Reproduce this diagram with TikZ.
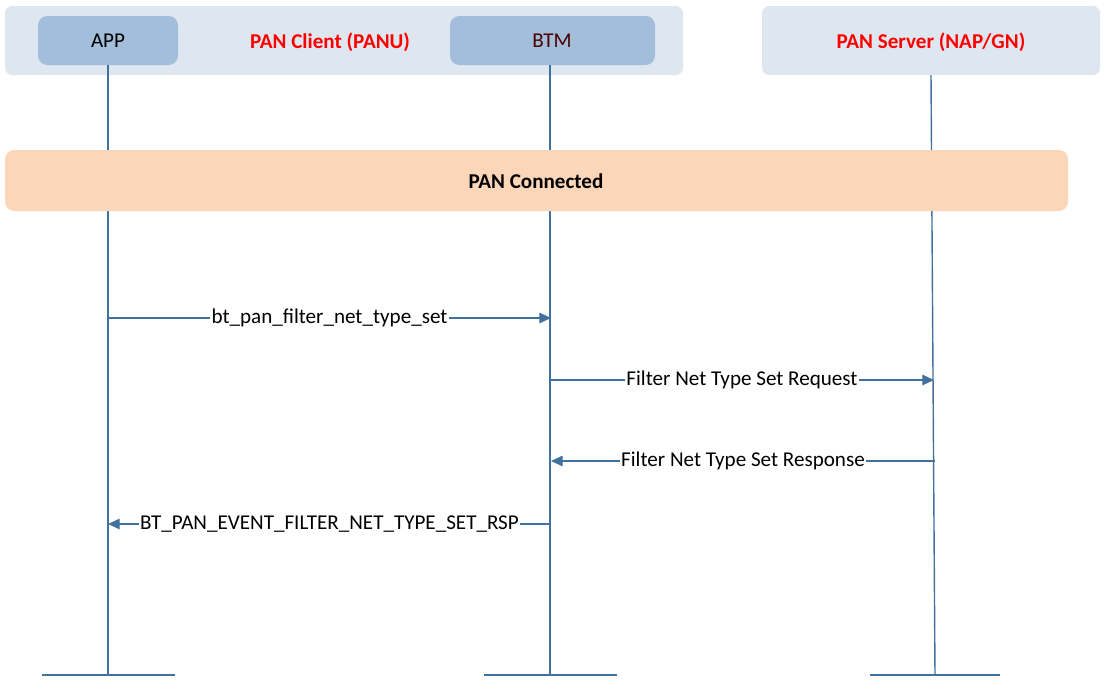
\documentclass[tikz,border=0pt]{standalone}
\usepackage{fontspec}
\setmainfont{Carlito}
\usetikzlibrary{arrows.meta}
\definecolor{ln}{HTML}{41719C}
\definecolor{grp}{HTML}{DEE7F0}
\definecolor{box}{HTML}{A2BEDA}
\definecolor{org}{HTML}{FBD6B8}
\begin{document}
\begin{tikzpicture}[x=0.03cm,y=-0.03cm,
  grpbox/.style={fill=grp,draw=none,rounded corners=6pt},
  actor/.style={fill=box,draw=none,rounded corners=8pt},
  life/.style={draw=ln,line width=1.2pt},
  msg/.style={draw=ln,line width=1.2pt,-{Triangle[length=10pt,width=9pt]}},
  lbl/.style={fill=white,inner sep=1pt,font=\fontsize{18}{21}\selectfont},
  red/.style={text=red,font=\fontsize{18}{21}\selectfont\bfseries}]
\useasboundingbox (0,0) rectangle (1114,689);
\fill[grpbox] (5,6) rectangle (683,75);
\fill[grpbox] (762,6) rectangle (1100,75);
\fill[actor] (38,16) rectangle (178,65);
\fill[actor] (450,16) rectangle (655,65);
\node[font=\fontsize{18}{21}\selectfont] (app) at (108,41) {APP};
\node[font=\fontsize{18}{21}\selectfont,text=black!70!red] (btm) at (552,41) {BTM};
\node[red] (cl) at (330,42) {PAN Client (PANU)};
\node[red] (sv) at (931,42) {PAN Server (NAP/GN)};
\coordinate (at) at (108,65); \coordinate (ab) at (108,675);
\coordinate (bt) at (550,65); \coordinate (bb) at (550,675);
\coordinate (st) at (931,75); \coordinate (sb) at (935,675);
\draw[life] (at) -- (ab); \draw[life] (bt) -- (bb); \draw[life] (st) -- (sb);
\draw[life] (42,675) -- (175,675);
\draw[life] (484,675) -- (617,675);
\draw[life] (870,675) -- (1000,675);
\fill[org,rounded corners=8pt] (5,150) rectangle (1068,211);
\node[font=\fontsize{18}{21}\selectfont\bfseries] (pc) at (536,181) {PAN Connected};
\coordinate (a1) at (108,318); \coordinate (b1) at (551,318);
\coordinate (b2) at (550,380); \coordinate (s2) at (934,380);
\coordinate (s3) at (935,461); \coordinate (b3) at (551,461);
\coordinate (b4) at (551,524); \coordinate (a4) at (108,524);
\draw[msg] (a1) -- node[lbl]{bt\_pan\_filter\_net\_type\_set} (b1);
\draw[msg] (b2) -- node[lbl]{Filter Net Type Set Request} (s2);
\draw[msg] (s3) -- node[lbl]{Filter Net Type Set Response} (b3);
\draw[msg] (b4) -- node[lbl]{BT\_PAN\_EVENT\_FILTER\_NET\_TYPE\_SET\_RSP} (a4);
\end{tikzpicture}
\end{document}
